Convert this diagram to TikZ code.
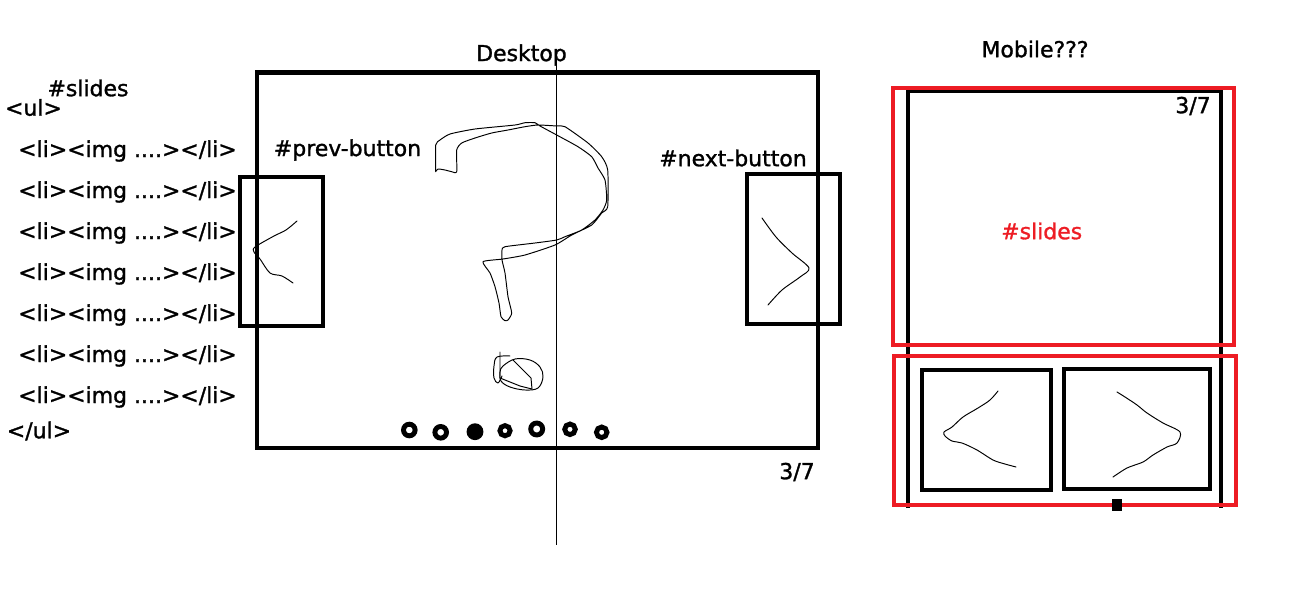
\documentclass[tikz,border=0pt]{standalone}
\usepackage{fontspec}
\setmainfont{DejaVu Sans}
\usetikzlibrary{positioning}
\definecolor{paintred}{HTML}{ED1C24}

\begin{document}
\begin{tikzpicture}[x=0.02cm,y=-0.02cm,
    frame/.style={draw=black,line width=2.8pt},
    btnbox/.style={draw=black,line width=2.4pt},
    redframe/.style={draw=paintred,line width=2.3pt},
    scribble/.style={draw=black,line width=0.55pt,line join=round,line cap=round},
    pagedot/.style={draw=black,line width=2.8pt},
    sketchtext/.style={inner sep=0pt,font=\fontsize{12.5}{14}\selectfont\addfontfeatures{FakeBold=1.3}}]
  \useasboundingbox (0,0) rectangle (1304,602);

  % markup on the left
  \node[sketchtext] (slidesid) at (88,88) {\#slides};
  \node[sketchtext] (ulopen) at (33.5,107.5) {<ul>};
  \foreach \k in {0,...,6}
    \node[sketchtext] (li\k) at (127.5,{151+41*\k}) {<li><img ....></li>};
  \node[sketchtext] (ulclose) at (39,431) {</ul>};

  % desktop
  \node[sketchtext] (desktop) at (521.5,55) {Desktop};
  \draw[frame] (257,72.5) rectangle (818,448);
  \draw[line width=0.6pt] (556.5,50) -- (556.5,545);
  \draw[btnbox] (240,177) rectangle (323,326);
  \draw[btnbox] (747,174) rectangle (840,324);
  \node[sketchtext] (prevlabel) at (347.5,150) {\#prev-button};
  \node[sketchtext] (nextlabel) at (733,158) {\#next-button};
  \node[sketchtext] (desktopcount) at (797,472) {3/7};

  % hand drawn arrows
  \draw[scribble] plot[smooth,tension=0.5] coordinates {(297,221) (286,230) (274,236) (255,247) (254,252) (260,259) (270,273) (282,276) (293,283)};
  \draw[scribble] plot[smooth,tension=0.5] coordinates {(762,218) (776,237) (792,253) (809,268) (800,277) (782,290) (768,305)};

  % question mark
  \draw[scribble] plot[smooth,tension=0.35] coordinates {
    (435.7,171.7) (435.7,145) (440,140) (450,134) (475,129) (515,125) (525,122.7)
    (535,122.7) (540,126) (556.7,135) (578,146.7) (591.7,156.7) (598,168) (605,180)
    (606.7,200) (603,210) (595,220) (581.7,230) (565,236.7) (556.7,240) (535,243)
    (505,246.7) (502,250) (502,260) (505,273) (508,296.7) (511.7,313) (508,320)
    (505,320.7) (501,316.7) (499,303) (495,286.7) (490,273) (483,261.7) (503,259)
    (525,255) (555,245) (571.7,235) (591.7,225) (601.7,213) (607.7,206.7) (607.7,170)
    (601.7,156.7) (588,143) (565,126.7) (556.7,126) (538,125) (525,126.7) (508,130)
    (491.7,133) (475,138) (461.7,143) (456.7,150) (456.7,171.7) (451.7,171.7)
    (445,170) (438,169) (435.7,171.7)};
  \draw[scribble] plot[smooth cycle,tension=0.6] coordinates {(503,366) (515,359) (530,360) (540,367) (543,377) (538,388) (525,390) (510,387) (501,381) (500,372)};
  \draw[scribble] (500,352) -- (500,378) -- (520,386) -- (532,389);
  \draw[scribble] plot[smooth,tension=0.6] coordinates {(510,356) (497,357) (494,366) (494,378) (498,383) (502,376)};
  \draw[scribble] (513,360) -- (531,378) -- (532,389);

  % page dots
  \foreach \px/\py/\r in {409.3/430/3.3, 440.7/432.3/3.3, 505/430.7/2.9, 536.7/429/3.4, 570/429.3/3.0, 601.7/432.3/3.0}
    \draw[pagedot] (\px,\py) circle[radius=\r pt];
  \fill (475,431.7) circle[radius=4.8pt];

  % mobile
  \node[sketchtext] (mobile) at (1035,49) {Mobile???};
  \draw[line width=2.3pt] (908,508) -- (908,91) -- (1221,91) -- (1221,508);
  \draw[btnbox] (922,370) rectangle (1051,490);
  \draw[btnbox] (1064,369) rectangle (1210,489);
  \draw[redframe] (893,88) rectangle (1234,345);
  \draw[redframe] (894,356) rectangle (1236,505);
  \fill (1112,499) rectangle (1122,511);
  \node[sketchtext] (mobilecount) at (1193,106) {3/7};
  \node[sketchtext,text=paintred] (mobileslides) at (1041.7,231) {\#slides};
  \draw[scribble] plot[smooth,tension=0.5] coordinates {(998,391) (990,400) (978,408) (963,417) (952,427) (944,432) (945,436) (952,441) (962,443) (977,450) (993,460) (1005,464) (1016,467)};
  \draw[scribble] plot[smooth,tension=0.5] coordinates {(1117,392) (1125,397) (1137,405) (1147,413) (1163,423) (1180,432) (1177,443) (1167,447) (1153,455) (1143,462) (1127,468) (1113,477)};
\end{tikzpicture}
\end{document}
